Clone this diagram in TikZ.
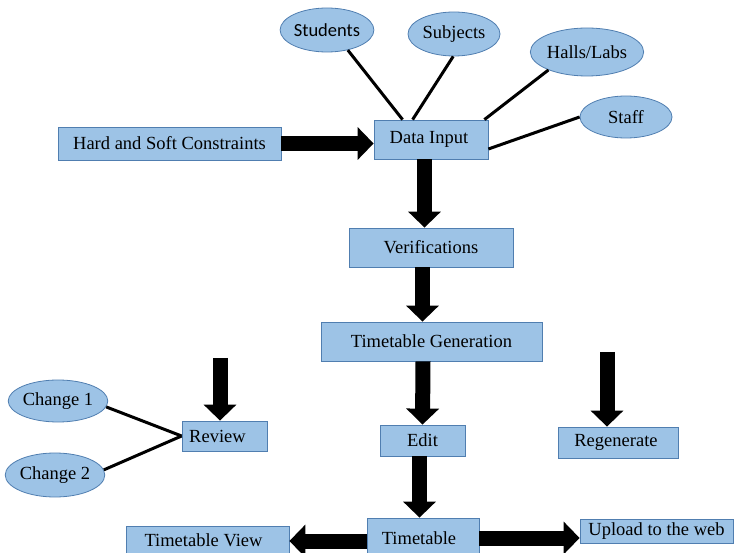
\documentclass[tikz,border=0pt]{standalone}
\usepackage{fontspec}
\setmainfont{Liberation Serif}
\newfontfamily\calib{Carlito}
\usetikzlibrary{arrows.meta,shapes.geometric,calc}
\definecolor{boxfill}{RGB}{157,195,230}
\definecolor{boxline}{RGB}{80,126,176}
\tikzset{
  every node/.style={font=\fontsize{18.5}{20}\selectfont, inner sep=0pt},
  blbox/.style={draw=boxline, fill=boxfill, line width=0.8pt, rectangle},
  blell/.style={draw=boxline, fill=boxfill, line width=0.8pt, ellipse},
  thinline/.style={line width=3pt},
  bigarrow/.style={line width=15pt, -{Triangle[width=32pt,length=16pt]}},
}
\begin{document}
\begin{tikzpicture}[x=1pt,y=-1pt]
\useasboundingbox (0,0) rectangle (734,553);
\clip (0,0) rectangle (734,553);
% boxes
\node[blbox, minimum width=223pt, minimum height=33pt] (hsc) at (169.5,143.5) {Hard and Soft Constraints};
\node[blbox, minimum width=114pt, minimum height=39pt] (di) at (431,139.5) {\hspace*{-4pt}Data Input};
\node[blbox, minimum width=164pt, minimum height=39pt] (ver) at (431,247.5) {Verifications};
\node[blbox, minimum width=221pt, minimum height=39pt] (tg) at (431.5,341.5) {Timetable Generation};
\node[blbox, minimum width=85pt, minimum height=31pt] (edit) at (422.5,440.5) {Edit};
\node[blbox, minimum width=120pt, minimum height=31pt] (regen) at (618,442.5) {\hspace*{-4pt}Regenerate};
\node[blbox, minimum width=85pt, minimum height=30pt] (review) at (224.5,436) {\hspace*{-14pt}Review};
\node[blbox, minimum width=112pt, minimum height=40pt] (tt) at (423,538) {\hspace*{-8pt}Timetable};
\node[blbox, minimum width=163pt, minimum height=30pt] (ttv) at (207.5,541) {\raisebox{2pt}{\hspace*{-8pt}Timetable View}};
\node[blbox, minimum width=153pt, minimum height=24pt] (up) at (656.5,531) {\raisebox{-1pt}{Upload to the web}};
% ellipses
\node[blell, minimum width=92pt, minimum height=44pt] (stu) at (327,30) {\calib Students};
\node[blell, minimum width=92pt, minimum height=44pt] (sub) at (454,34) {Subjects};
\node[blell, minimum width=102pt, minimum height=48pt] (hall) at (587,52) {Halls/Labs};
\node[blell, minimum width=92pt, minimum height=42pt] (staff) at (626,117) {Staff};
\node[blell, minimum width=94pt, minimum height=42pt] (ch1) at (58,401) {Change 1};
\node[blell, minimum width=94pt, minimum height=44pt] (ch2) at (55,475) {Change 2};
% free starts
\coordinate (rvtop) at (220,358);
\coordinate (rgtop) at (607,352);
% thin lines
\draw[thinline] (stu.-44) -- ([xshift=29pt]di.north west);
\draw[thinline] (sub.-92) -- ([xshift=39pt]di.north west);
\draw[thinline] (hall.-155) -- ([xshift=-4pt]di.north east);
\draw[thinline] (staff.180) -- ([yshift=-9.5pt]di.east);
\draw[thinline] (ch1.-7) -- (review.west);
\draw[thinline] (ch2.6) -- (review.west);
% block arrows
\draw[bigarrow] (hsc.east) -- (hsc.east -| di.west);
\draw[bigarrow] ([xshift=-6.5pt]di.south) -- ([xshift=-6.5pt]ver.north);
\draw[bigarrow] ([xshift=-8.5pt]ver.south) -- ([xshift=-9pt]tg.north);
\draw[bigarrow] ([xshift=-8.5pt]tg.south) -- (edit.north);
\draw[bigarrow] ([xshift=-3pt]edit.south) -- ([xshift=-3.5pt]tt.north);
\draw[bigarrow] (rvtop) -- ([xshift=-4.5pt]review.north);
\draw[bigarrow] (rgtop) -- ([xshift=-11pt]regen.north);
\draw[bigarrow] (ttv.east -| tt.west) -- (ttv.east);
\draw[bigarrow] (tt.east) -- (tt.east -| up.west);
\end{tikzpicture}
\end{document}
